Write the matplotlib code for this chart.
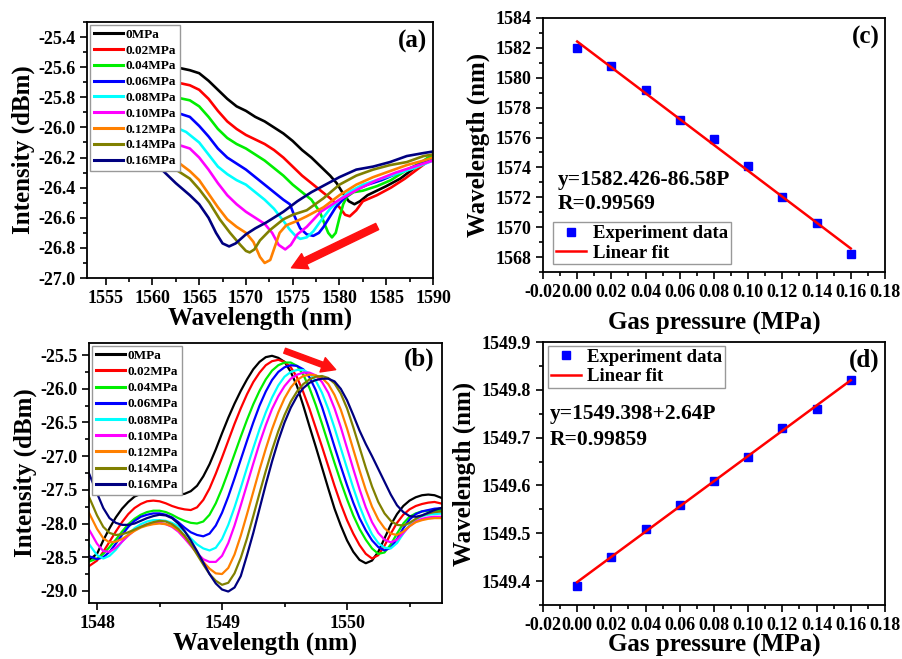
import matplotlib
matplotlib.use('Agg')
import matplotlib.pyplot as plt
from matplotlib.ticker import MultipleLocator, FormatStrFormatter

plt.rcParams['font.family'] = 'serif'
plt.rcParams['font.serif'] = ['Liberation Serif', 'DejaVu Serif']
plt.rcParams['font.weight'] = 'bold'
plt.rcParams['axes.labelweight'] = 'bold'
plt.rcParams['axes.unicode_minus'] = False

# ---------------- data ----------------
pressure_labels = ['0MPa', '0.02MPa', '0.04MPa', '0.06MPa', '0.08MPa',
                   '0.10MPa', '0.12MPa', '0.14MPa', '0.16MPa']

# (a) dip spectra, one x/y list per pressure
a_wl_0 = [1561.0, 1562.5, 1564.0, 1565.0, 1566.0, 1567.0, 1568.0, 1569.0, 1570.0, 1571.0, 1572.0, 1573.0, 1574.0, 1575.0, 1576.0, 1577.0, 1578.0, 1579.0, 1579.7, 1580.4, 1581.0, 1581.6, 1582.2, 1583.0, 1584.0, 1585.0, 1586.5, 1588.0, 1590.0]
a_int_0 = [-25.57, -25.60, -25.62, -25.64, -25.69, -25.75, -25.81, -25.86, -25.89, -25.93, -25.96, -26.00, -26.04, -26.09, -26.15, -26.20, -26.26, -26.32, -26.37, -26.44, -26.49, -26.51, -26.49, -26.45, -26.42, -26.39, -26.34, -26.27, -26.18]
a_wl_1 = [1561.0, 1562.5, 1564.0, 1565.0, 1566.0, 1567.0, 1568.0, 1569.0, 1570.0, 1571.0, 1572.0, 1573.0, 1574.0, 1575.0, 1576.0, 1577.0, 1578.0, 1579.0, 1580.0, 1580.6, 1581.1, 1581.8, 1582.5, 1584.0, 1585.5, 1587.0, 1588.5, 1590.0]
a_int_1 = [-25.68, -25.70, -25.72, -25.75, -25.81, -25.89, -25.96, -26.01, -26.05, -26.08, -26.11, -26.15, -26.20, -26.26, -26.32, -26.37, -26.42, -26.47, -26.53, -26.58, -26.59, -26.55, -26.49, -26.45, -26.40, -26.34, -26.27, -26.20]
a_wl_2 = [1561.0, 1562.5, 1564.0, 1565.0, 1566.0, 1567.0, 1568.0, 1569.0, 1570.0, 1571.0, 1572.0, 1573.0, 1574.0, 1575.0, 1576.0, 1577.0, 1577.9, 1578.4, 1578.8, 1579.2, 1579.6, 1580.0, 1580.4, 1580.8, 1581.5, 1582.5, 1584.0, 1585.5, 1587.0, 1588.5, 1590.0]
a_int_2 = [-25.78, -25.80, -25.82, -25.86, -25.93, -26.01, -26.07, -26.11, -26.14, -26.18, -26.22, -26.27, -26.32, -26.38, -26.43, -26.48, -26.56, -26.64, -26.70, -26.73, -26.70, -26.60, -26.51, -26.46, -26.43, -26.42, -26.39, -26.35, -26.29, -26.24, -26.18]
a_wl_3 = [1561.0, 1562.5, 1564.0, 1565.0, 1566.0, 1567.0, 1568.0, 1569.0, 1570.0, 1571.0, 1572.0, 1573.0, 1574.0, 1574.7, 1575.2, 1575.8, 1576.5, 1577.2, 1577.8, 1578.3, 1579.0, 1579.6, 1580.5, 1581.5, 1583.0, 1584.5, 1586.0, 1588.0, 1590.0]
a_int_3 = [-25.88, -25.90, -25.93, -25.99, -26.06, -26.14, -26.20, -26.24, -26.28, -26.33, -26.38, -26.43, -26.48, -26.51, -26.59, -26.67, -26.71, -26.72, -26.70, -26.66, -26.59, -26.53, -26.47, -26.42, -26.38, -26.35, -26.31, -26.26, -26.21]
a_wl_4 = [1561.0, 1562.5, 1563.6, 1565.0, 1566.0, 1567.0, 1568.0, 1569.0, 1570.0, 1571.0, 1572.0, 1573.0, 1574.0, 1574.7, 1575.3, 1575.8, 1576.5, 1577.2, 1578.0, 1579.0, 1580.0, 1581.0, 1582.5, 1584.0, 1586.0, 1588.0, 1590.0]
a_int_4 = [-25.98, -26.00, -26.03, -26.10, -26.18, -26.26, -26.31, -26.35, -26.38, -26.43, -26.48, -26.54, -26.62, -26.68, -26.72, -26.74, -26.73, -26.69, -26.62, -26.54, -26.48, -26.43, -26.38, -26.35, -26.31, -26.27, -26.22]
a_wl_5 = [1561.0, 1562.5, 1564.0, 1565.0, 1566.0, 1567.0, 1568.0, 1569.0, 1570.0, 1571.0, 1572.0, 1572.8, 1573.5, 1574.2, 1574.8, 1575.5, 1576.5, 1578.0, 1580.0, 1582.0, 1584.0, 1586.0, 1588.0, 1590.0]
a_int_5 = [-26.09, -26.11, -26.14, -26.20, -26.28, -26.37, -26.45, -26.51, -26.56, -26.60, -26.64, -26.70, -26.78, -26.81, -26.78, -26.71, -26.66, -26.56, -26.48, -26.41, -26.35, -26.30, -26.26, -26.22]
a_wl_6 = [1561.0, 1562.5, 1564.0, 1565.0, 1566.0, 1567.0, 1568.0, 1569.0, 1570.0, 1570.8, 1571.5, 1572.0, 1572.6, 1573.1, 1573.6, 1574.3, 1575.5, 1576.5, 1578.3, 1580.0, 1581.8, 1583.6, 1585.4, 1587.2, 1589.0, 1590.0]
a_int_6 = [-26.18, -26.22, -26.29, -26.35, -26.44, -26.53, -26.61, -26.66, -26.70, -26.76, -26.86, -26.90, -26.88, -26.79, -26.70, -26.65, -26.62, -26.59, -26.53, -26.45, -26.38, -26.33, -26.29, -26.25, -26.22, -26.20]
a_wl_7 = [1561.0, 1562.5, 1564.0, 1565.0, 1566.1, 1567.2, 1568.3, 1569.4, 1570.0, 1570.4, 1570.9, 1571.5, 1572.6, 1574.0, 1575.0, 1576.5, 1578.3, 1580.0, 1581.8, 1583.6, 1585.4, 1587.2, 1589.0, 1590.0]
a_int_7 = [-26.24, -26.28, -26.34, -26.41, -26.50, -26.61, -26.70, -26.78, -26.82, -26.83, -26.81, -26.75, -26.68, -26.61, -26.58, -26.55, -26.47, -26.38, -26.32, -26.28, -26.25, -26.23, -26.19, -26.18]
a_wl_8 = [1561.0, 1562.5, 1564.0, 1565.0, 1566.0, 1566.8, 1567.5, 1568.2, 1568.9, 1570.0, 1571.0, 1572.2, 1574.0, 1575.5, 1577.0, 1578.5, 1580.0, 1581.8, 1583.6, 1585.4, 1587.2, 1589.0, 1590.0]
a_int_8 = [-26.28, -26.37, -26.45, -26.51, -26.60, -26.70, -26.77, -26.79, -26.77, -26.71, -26.67, -26.63, -26.56, -26.49, -26.43, -26.38, -26.33, -26.28, -26.26, -26.23, -26.19, -26.17, -26.16]

# (b) peak spectra, common wavelength grid
b_wl = [1547.93, 1548.00, 1548.05, 1548.10, 1548.15, 1548.20, 1548.25, 1548.30, 1548.35, 1548.40,
        1548.45, 1548.50, 1548.55, 1548.60, 1548.65, 1548.70, 1548.75, 1548.80, 1548.85, 1548.90,
        1548.95, 1549.00, 1549.05, 1549.10, 1549.15, 1549.20, 1549.25, 1549.30, 1549.35, 1549.40,
        1549.45, 1549.50, 1549.55, 1549.60, 1549.65, 1549.70, 1549.75, 1549.80, 1549.85, 1549.90,
        1549.95, 1550.00, 1550.05, 1550.10, 1550.15, 1550.20, 1550.25, 1550.30, 1550.35, 1550.40,
        1550.45, 1550.50, 1550.55, 1550.60, 1550.65, 1550.70, 1550.77]
b_int_0 = [-28.55, -28.45, -28.25, -28.07, -27.91, -27.78, -27.68, -27.60, -27.56, -27.54,
           -27.54, -27.55, -27.56, -27.57, -27.57, -27.56, -27.52, -27.44, -27.30, -27.12,
           -26.90, -26.66, -26.43, -26.22, -26.03, -25.86, -25.71, -25.60, -25.53, -25.51,
           -25.54, -25.60, -25.75, -25.96, -26.25, -26.56, -26.86, -27.17, -27.48, -27.78,
           -28.03, -28.25, -28.42, -28.54, -28.59, -28.55, -28.42, -28.22, -28.02, -27.86,
           -27.74, -27.66, -27.61, -27.58, -27.57, -27.58, -27.63]
b_int_1 = [-28.64, -28.55, -28.42, -28.27, -28.12, -27.98, -27.86, -27.77, -27.71, -27.67,
           -27.66, -27.67, -27.70, -27.74, -27.77, -27.79, -27.80, -27.76, -27.65, -27.48,
           -27.26, -27.02, -26.77, -26.52, -26.29, -26.08, -25.90, -25.76, -25.65, -25.59,
           -25.57, -25.60, -25.68, -25.83, -26.05, -26.30, -26.58, -26.86, -27.15, -27.44,
           -27.71, -27.95, -28.15, -28.32, -28.45, -28.52, -28.47, -28.33, -28.15, -27.99,
           -27.87, -27.79, -27.74, -27.71, -27.69, -27.68, -27.71]
b_int_2 = [-28.57, -28.52, -28.45, -28.35, -28.24, -28.12, -28.01, -27.93, -27.87, -27.83,
           -27.81, -27.81, -27.83, -27.87, -27.92, -27.96, -27.99, -28.00, -27.97, -27.87,
           -27.70, -27.48, -27.23, -26.97, -26.71, -26.46, -26.23, -26.03, -25.86, -25.73,
           -25.65, -25.61, -25.61, -25.66, -25.79, -25.99, -26.24, -26.52, -26.81, -27.10,
           -27.38, -27.64, -27.88, -28.08, -28.24, -28.37, -28.45, -28.43, -28.31, -28.15,
           -28.00, -27.90, -27.85, -27.82, -27.81, -27.80, -27.80]
b_int_3 = [-28.48, -28.53, -28.50, -28.42, -28.30, -28.17, -28.05, -27.96, -27.90, -27.87,
           -27.85, -27.85, -27.87, -27.91, -27.98, -28.06, -28.13, -28.17, -28.19, -28.15,
           -28.03, -27.84, -27.60, -27.33, -27.05, -26.77, -26.50, -26.25, -26.04, -25.87,
           -25.75, -25.68, -25.65, -25.66, -25.71, -25.83, -26.02, -26.27, -26.56, -26.86,
           -27.15, -27.43, -27.69, -27.92, -28.10, -28.25, -28.35, -28.40, -28.36, -28.23,
           -28.07, -27.94, -27.86, -27.82, -27.80, -27.78, -27.77]
b_int_4 = [-28.29, -28.47, -28.52, -28.48, -28.39, -28.27, -28.16, -28.07, -28.01, -27.97,
           -27.95, -27.95, -27.96, -27.99, -28.04, -28.12, -28.22, -28.31, -28.37, -28.40,
           -28.36, -28.23, -28.02, -27.76, -27.47, -27.17, -26.88, -26.60, -26.35, -26.13,
           -25.95, -25.82, -25.75, -25.72, -25.72, -25.77, -25.88, -26.06, -26.30, -26.58,
           -26.88, -27.18, -27.47, -27.74, -27.97, -28.16, -28.29, -28.36, -28.37, -28.29,
           -28.15, -28.02, -27.94, -27.89, -27.87, -27.86, -27.85]
b_int_5 = [-28.07, -28.30, -28.41, -28.42, -28.36, -28.27, -28.18, -28.10, -28.05, -28.01,
           -27.99, -27.99, -28.01, -28.05, -28.12, -28.22, -28.33, -28.44, -28.53, -28.57,
           -28.57, -28.48, -28.29, -28.03, -27.73, -27.42, -27.11, -26.81, -26.54, -26.30,
           -26.11, -25.96, -25.85, -25.79, -25.76, -25.76, -25.80, -25.90, -26.06, -26.29,
           -26.57, -26.88, -27.19, -27.49, -27.76, -27.98, -28.14, -28.24, -28.28, -28.24,
           -28.14, -28.04, -27.97, -27.93, -27.91, -27.90, -27.90]
b_int_6 = [-27.82, -28.08, -28.22, -28.28, -28.27, -28.23, -28.17, -28.11, -28.06, -28.03,
           -28.01, -28.00, -28.01, -28.04, -28.10, -28.19, -28.31, -28.44, -28.57, -28.67,
           -28.74, -28.75, -28.66, -28.46, -28.18, -27.86, -27.53, -27.20, -26.89, -26.60,
           -26.35, -26.14, -25.98, -25.87, -25.81, -25.79, -25.80, -25.84, -25.93, -26.09,
           -26.31, -26.59, -26.90, -27.21, -27.50, -27.75, -27.94, -28.07, -28.15, -28.17,
           -28.12, -28.04, -27.98, -27.95, -27.93, -27.92, -27.92]
b_int_7 = [-27.58, -27.88, -28.05, -28.14, -28.17, -28.16, -28.13, -28.09, -28.05, -28.01,
           -27.98, -27.96, -27.97, -28.01, -28.08, -28.18, -28.31, -28.46, -28.61, -28.75,
           -28.85, -28.91, -28.88, -28.74, -28.51, -28.22, -27.89, -27.55, -27.22, -26.91,
           -26.63, -26.39, -26.19, -26.04, -25.93, -25.86, -25.82, -25.81, -25.84, -25.92,
           -26.07, -26.29, -26.57, -26.87, -27.17, -27.45, -27.68, -27.85, -27.96, -28.02,
           -28.03, -27.99, -27.93, -27.88, -27.85, -27.83, -27.82]
b_int_8 = [-27.23, -27.55, -27.77, -27.92, -27.99, -28.02, -28.02, -28.00, -27.96, -27.92,
           -27.89, -27.87, -27.88, -27.92, -28.00, -28.11, -28.25, -28.41, -28.58, -28.75,
           -28.89, -28.98, -29.01, -28.95, -28.78, -28.47, -28.14, -27.78, -27.42, -27.08,
           -26.77, -26.50, -26.28, -26.11, -25.99, -25.91, -25.87, -25.85, -25.85, -25.89,
           -26.00, -26.17, -26.39, -26.62, -26.82, -27.00, -27.19, -27.38, -27.57, -27.73,
           -27.83, -27.89, -27.90, -27.88, -27.84, -27.80, -27.76]

# (c), (d) dip / peak wavelength vs gas pressure
pressure = [0.00, 0.02, 0.04, 0.06, 0.08, 0.10, 0.12, 0.14, 0.16]
dip_wl = [1582.0, 1580.8, 1579.2, 1577.2, 1575.9, 1574.1, 1572.0, 1570.3, 1568.2]
peak_wl = [1549.39, 1549.45, 1549.51, 1549.56, 1549.61, 1549.66, 1549.72, 1549.76, 1549.82]
fit_p = [0.0, 0.16]
fit_dip = [1582.426, 1568.573]
fit_peak = [1549.398, 1549.820]

a_wl = [a_wl_0, a_wl_1, a_wl_2, a_wl_3, a_wl_4, a_wl_5, a_wl_6, a_wl_7, a_wl_8]
a_int = [a_int_0, a_int_1, a_int_2, a_int_3, a_int_4, a_int_5, a_int_6, a_int_7, a_int_8]
b_int = [b_int_0, b_int_1, b_int_2, b_int_3, b_int_4, b_int_5, b_int_6, b_int_7, b_int_8]

colors = ['#000000', '#FF0000', '#00EE00', '#0000FF', '#00FFFF',
          '#FF00FF', '#FF8000', '#808000', '#000080']


def style_axes(ax):
    for sp in ax.spines.values():
        sp.set_linewidth(1.3)
    ax.tick_params(which='both', direction='out', top=False, right=False,
                   labelsize=13, width=1.2)
    ax.tick_params(which='major', length=5)
    ax.tick_params(which='minor', length=3)


fig = plt.figure(figsize=(9.03, 6.59), dpi=100)
ax_a = fig.add_axes([0.0963, 0.5781, 0.3832, 0.3885])
ax_b = fig.add_axes([0.0986, 0.0850, 0.3909, 0.3945])
ax_c = fig.add_axes([0.6013, 0.5873, 0.3787, 0.3854])
ax_d = fig.add_axes([0.6013, 0.0819, 0.3787, 0.3991])

# ---- (a) ----
for wl, it, c, lab in zip(a_wl, a_int, colors, pressure_labels):
    ax_a.plot(wl, it, color=c, lw=1.9, label=lab)
ax_a.set_xlim(1553, 1590)
ax_a.set_ylim(-27.0, -25.3)
ax_a.xaxis.set_major_locator(MultipleLocator(5))
ax_a.xaxis.set_minor_locator(MultipleLocator(2.5))
ax_a.yaxis.set_major_locator(MultipleLocator(0.2))
ax_a.yaxis.set_minor_locator(MultipleLocator(0.1))
ax_a.yaxis.set_major_formatter(FormatStrFormatter('%.1f'))
ax_a.set_xlabel('Wavelength (nm)', fontsize=18, labelpad=0)
ax_a.set_ylabel('Intensity (dBm)', fontsize=18, labelpad=2)
leg = ax_a.legend(loc='upper left', prop={'size': 9.5, 'weight': 'bold'}, handlelength=2.2,
                  labelspacing=0.27, borderpad=0.3, handletextpad=0.2, borderaxespad=0.2,
                  fancybox=False, edgecolor='#999999', framealpha=1)
for ln in leg.get_lines():
    ln.set_linewidth(2.2)
ax_a.annotate('', xy=(1574.6, -26.94), xytext=(1584.3, -26.65),
              arrowprops=dict(arrowstyle='simple,head_length=1.0,head_width=1.1,tail_width=0.45',
                              color='#FF1010', mutation_scale=11))
ax_a.text(0.983, 0.90, '(a)', transform=ax_a.transAxes, fontsize=18,
          ha='right', va='baseline')
style_axes(ax_a)

# ---- (b) ----
for it, c, lab in zip(b_int, colors, pressure_labels):
    ax_b.plot(b_wl, it, color=c, lw=1.6, label=lab)
ax_b.set_xlim(1547.936, 1550.76)
ax_b.set_ylim(-29.18, -25.32)
ax_b.xaxis.set_major_locator(MultipleLocator(1))
ax_b.xaxis.set_minor_locator(MultipleLocator(0.5))
ax_b.yaxis.set_major_locator(MultipleLocator(0.5))
ax_b.yaxis.set_minor_locator(MultipleLocator(0.25))
ax_b.yaxis.set_major_formatter(FormatStrFormatter('%.1f'))
ax_b.set_xlabel('Wavelength (nm)', fontsize=18, labelpad=0)
ax_b.set_ylabel('Intensity (dBm)', fontsize=18, labelpad=2)
leg = ax_b.legend(loc='upper left', prop={'size': 9.5, 'weight': 'bold'}, handlelength=2.2,
                  labelspacing=0.3, borderpad=0.3, handletextpad=0.2, borderaxespad=0.2,
                  fancybox=False, edgecolor='#999999', framealpha=1)
for ln in leg.get_lines():
    ln.set_linewidth(2.2)
ax_b.annotate('', xy=(1549.93, -25.73), xytext=(1549.48, -25.42),
              arrowprops=dict(arrowstyle='simple,head_length=1.0,head_width=1.1,tail_width=0.38',
                              color='#FF1010', mutation_scale=10))
ax_b.text(0.980, 0.915, '(b)', transform=ax_b.transAxes, fontsize=18,
          ha='right', va='baseline')
style_axes(ax_b)

# ---- (c) ----
ax_c.plot(pressure, dip_wl, 's', color='#0000FF', ms=5.5, label='Experiment data')
ax_c.plot(fit_p, fit_dip, color='#FF0000', lw=1.8, label='Linear fit')
ax_c.set_xlim(-0.02, 0.18)
ax_c.set_ylim(1567, 1584)
ax_c.xaxis.set_major_locator(MultipleLocator(0.02))
ax_c.xaxis.set_minor_locator(MultipleLocator(0.01))
ax_c.xaxis.set_major_formatter(FormatStrFormatter('%.2f'))
ax_c.yaxis.set_major_locator(MultipleLocator(2))
ax_c.yaxis.set_minor_locator(MultipleLocator(1))
ax_c.set_xlabel('Gas pressure (MPa)', fontsize=18, labelpad=8)
ax_c.set_ylabel('Wavelength (nm)', fontsize=18, labelpad=4)
ax_c.legend(loc='lower left', prop={'size': 13.5, 'weight': 'bold'}, handlelength=1.6,
            borderpad=0.15, labelspacing=0.12, handletextpad=0.35,
            bbox_to_anchor=(0.03, 0.03), borderaxespad=0,
            fancybox=False, edgecolor='#999999', framealpha=1)
ax_c.text(0.044, 0.343, 'y=1582.426-86.58P', transform=ax_c.transAxes, fontsize=15.5,
          ha='left', va='baseline')
ax_c.text(0.044, 0.248, 'R=0.99569', transform=ax_c.transAxes, fontsize=15.5,
          ha='left', va='baseline')
ax_c.text(0.985, 0.90, '(c)', transform=ax_c.transAxes, fontsize=18,
          ha='right', va='baseline')
style_axes(ax_c)

# ---- (d) ----
ax_d.plot(pressure, peak_wl, 's', color='#0000FF', ms=5.5, label='Experiment data')
ax_d.plot(fit_p, fit_peak, color='#FF0000', lw=1.8, label='Linear fit')
ax_d.set_xlim(-0.02, 0.18)
ax_d.set_ylim(1549.35, 1549.9)
ax_d.xaxis.set_major_locator(MultipleLocator(0.02))
ax_d.xaxis.set_minor_locator(MultipleLocator(0.01))
ax_d.xaxis.set_major_formatter(FormatStrFormatter('%.2f'))
ax_d.yaxis.set_major_locator(MultipleLocator(0.1))
ax_d.yaxis.set_minor_locator(MultipleLocator(0.05))
ax_d.yaxis.set_major_formatter(FormatStrFormatter('%.1f'))
ax_d.set_xlabel('Gas pressure (MPa)', fontsize=18, labelpad=0)
ax_d.set_ylabel('Wavelength (nm)', fontsize=18, labelpad=4)
ax_d.legend(loc='upper left', prop={'size': 13.5, 'weight': 'bold'}, handlelength=1.6,
            borderpad=0.15, labelspacing=0.12, handletextpad=0.35,
            bbox_to_anchor=(0.015, 0.985), borderaxespad=0,
            fancybox=False, edgecolor='#999999', framealpha=1)
ax_d.text(0.02, 0.707, 'y=1549.398+2.64P', transform=ax_d.transAxes, fontsize=15.5,
          ha='left', va='baseline')
ax_d.text(0.02, 0.608, 'R=0.99859', transform=ax_d.transAxes, fontsize=15.5,
          ha='left', va='baseline')
ax_d.text(0.985, 0.905, '(d)', transform=ax_d.transAxes, fontsize=18,
          ha='right', va='baseline')
style_axes(ax_d)

fig.savefig('out.png', dpi=100)
